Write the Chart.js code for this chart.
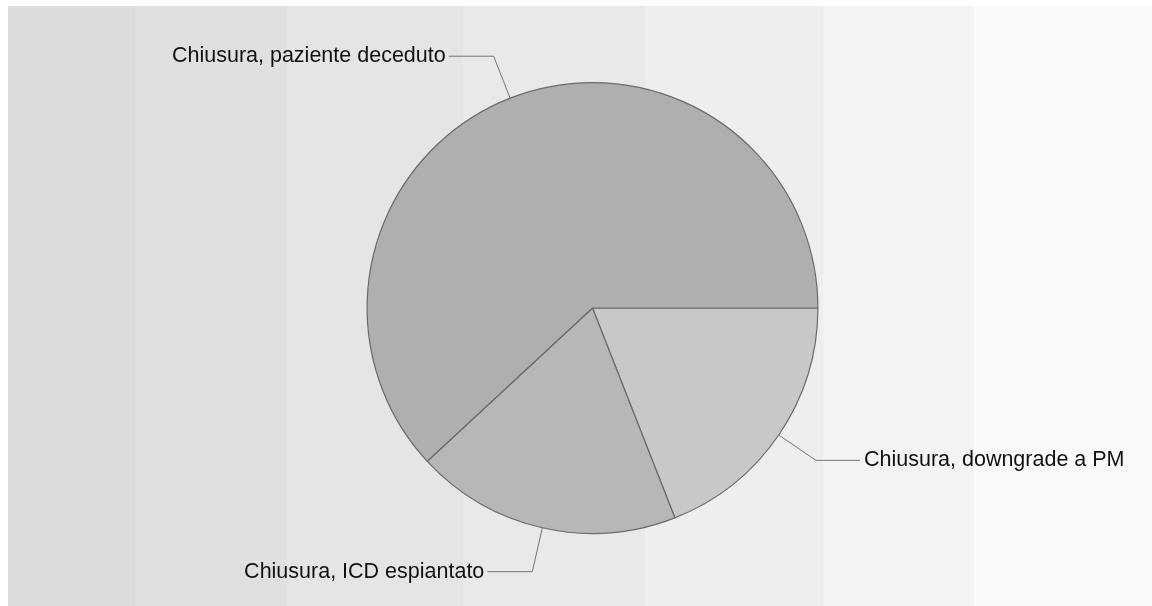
<!DOCTYPE html>
<html>
<head>
<meta charset="utf-8">
<title>Chiusure</title>
<script src="https://cdn.jsdelivr.net/npm/chart.js@4"></script>
<style>
  html, body { margin: 0; padding: 0; background: #fff; }
  canvas { display: block; }
</style>
</head>
<body>
<canvas id="closureChart" width="1152" height="606"></canvas>
<script>
// closure reasons, clockwise from 3 o'clock
const labels = ['Chiusura, downgrade a PM', 'Chiusura, ICD espiantato', 'Chiusura, paziente deceduto'];
const counts = [4, 4, 13];

// vertical grey stripes behind the pie
const stripes = {
    id: 'stripes',
    beforeDraw(chart) {
        const ctx = chart.ctx;
        const edges = [8, 135, 287, 463, 645, 823, 974, 1152];
        const shades = ['#dcdcdc', '#e0e0e0', '#e5e5e5', '#e9e9e9', '#eeeeee', '#f3f3f3', '#f9f9f9'];
        ctx.save();
        for (let i = 0; i < shades.length; i++) {
            ctx.fillStyle = shades[i];
            ctx.fillRect(edges[i], 6, edges[i + 1] - edges[i], chart.height - 6);
        }
        ctx.restore();
    }
};

// labels outside the pie with elbow leader lines
const leaders = {
    id: 'leaders',
    afterDatasetsDraw(chart) {
        const ctx = chart.ctx;
        const meta = chart.getDatasetMeta(0);
        ctx.save();
        ctx.font = '21.5px "Liberation Sans", Arial, sans-serif';
        ctx.textBaseline = 'middle';
        ctx.lineWidth = 1;
        meta.data.forEach((arc, i) => {
            const p = arc.getProps(['x', 'y', 'startAngle', 'endAngle', 'outerRadius'], true);
            const mid = (p.startAngle + p.endAngle) / 2;
            const cos = Math.cos(mid), sin = Math.sin(mid);
            const x0 = p.x + cos * p.outerRadius, y0 = p.y + sin * p.outerRadius;
            const x1 = p.x + cos * p.outerRadius * 1.2, y1 = p.y + sin * p.outerRadius * 1.2;
            const right = cos >= 0;
            const x2 = x1 + (right ? 44 : -45);
            ctx.strokeStyle = '#757575';
            ctx.beginPath();
            ctx.moveTo(x0, y0);
            ctx.lineTo(x1, y1);
            ctx.lineTo(x2, y1);
            ctx.stroke();
            ctx.fillStyle = '#111';
            ctx.textAlign = right ? 'left' : 'right';
            ctx.fillText(chart.data.labels[i], x2 + (right ? 4 : -3), y1);
        });
        ctx.restore();
    }
};

const ctx = document.getElementById('closureChart').getContext('2d');
const chart = new Chart(ctx, {
    type: 'pie',
    data: {
        labels: labels,
        datasets: [{
            data: counts,
            backgroundColor: ['#c8c8c8', '#b7b7b7', '#afafaf'],
            borderColor: '#6a6a6a',
            borderWidth: 1.2
        }]
    },
    options: {
        responsive: false,
        animation: false,
        rotation: 90,
        layout: {
            padding: { left: 296, right: 263, top: 82, bottom: 72 }
        },
        plugins: {
            legend: { display: false },
            tooltip: { enabled: false }
        }
    },
    plugins: [stripes, leaders]
});
</script>
</body>
</html>
